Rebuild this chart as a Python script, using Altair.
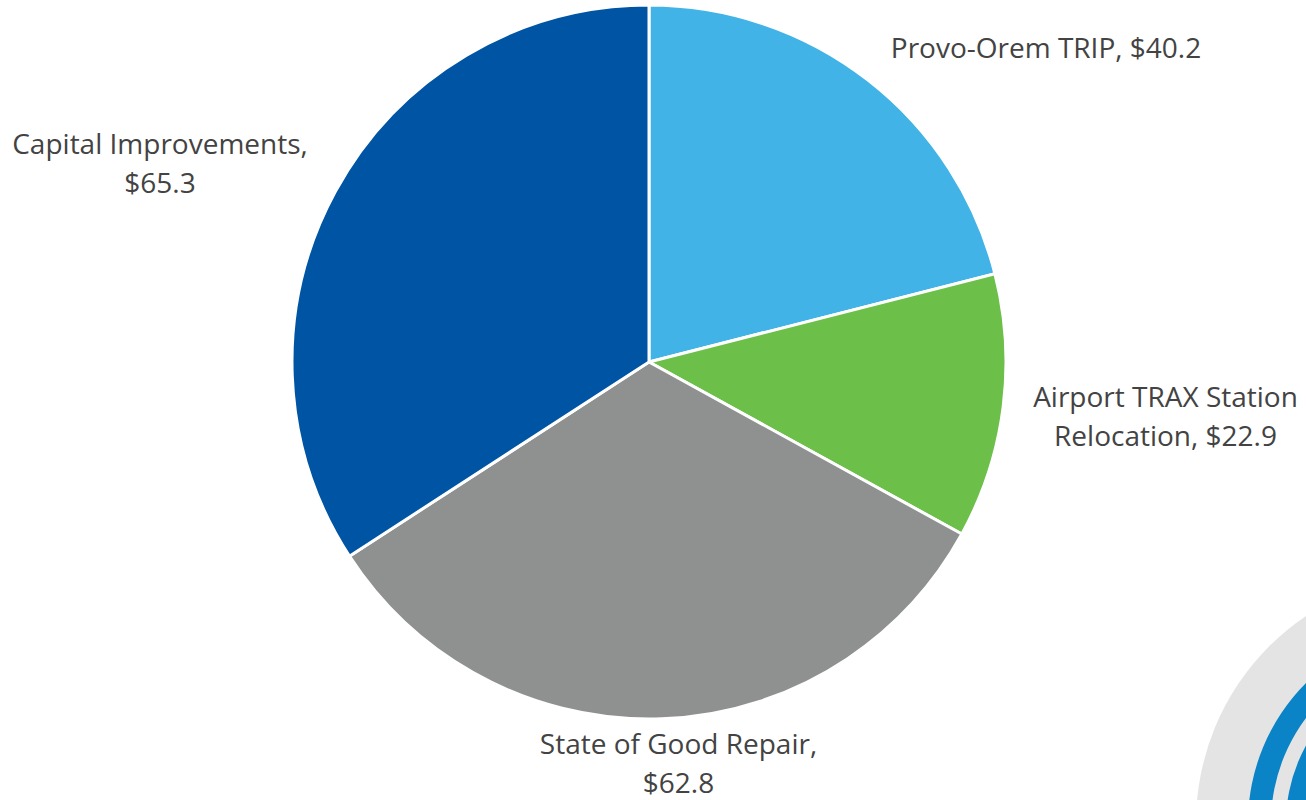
import altair as alt
import pandas as pd

categories = ["Provo-Orem TRIP", "Airport TRAX Station Relocation", "State of Good Repair", "Capital Improvements"]
amounts = [40.2, 22.9, 62.8, 65.3]
colors = ["#41B3E6", "#6CC04A", "#8F9190", "#0054A4"]

pie_data = pd.DataFrame({"category": categories, "amount": amounts, "rank": [0, 1, 2, 3]})

W, H = 1306, 800
CX, CY, R = 649, 362, 357

pie = (
    alt.Chart(pie_data)
    .mark_arc(outerRadius=R, stroke="white", strokeWidth=3)
    .encode(
        theta=alt.Theta("amount:Q", stack=True),
        order=alt.Order("rank:Q"),
        color=alt.Color("category:N", scale=alt.Scale(domain=categories, range=colors), legend=None),
        x=alt.value(CX),
        y=alt.value(CY),
    )
)

# Each label: text lines, anchor x, first-line baseline y
label_layout = [
    (["Provo-Orem TRIP, $40.2"], 1046, 58),
    (["Airport TRAX Station", "Relocation, $22.9"], 1165.5, 407),
    (["State of Good Repair,", "$62.8"], 678.5, 754),
    (["Capital Improvements,", "$65.3"], 160, 154),
]
labels = [
    alt.Chart(pd.DataFrame({"t": [" | ".join(lines)]}))
    .mark_text(
        text=lines,
        font="Open Sans",
        fontSize=28,
        color="#434343",
        align="center",
        baseline="alphabetic",
        lineHeight=39,
    )
    .encode(x=alt.value(x), y=alt.value(y))
    for lines, x, y in label_layout
]

# Agency emblem in the lower right corner: concentric bands on a pale disc
emblem_bands = [
    ("#E4E4E4", 0, 250),
    ("#0A84C6", 175, 198),
    ("#0A84C6", 132, 160),
]
emblem = [
    alt.Chart(pd.DataFrame({"v": [1]}))
    .mark_arc(innerRadius=inner, outerRadius=outer, color=col, clip=True)
    .encode(theta=alt.Theta("v:Q"), x=alt.value(1446), y=alt.value(823))
    for col, inner, outer in emblem_bands
]

chart = (
    alt.layer(*emblem, pie, *labels)
    .resolve_scale(theta="independent")
    .properties(width=W, height=H, padding=0, background="white", autosize=alt.AutoSizeParams(type="none"))
    .configure_view(stroke=None)
)

chart.save("out.html", embed_options={"renderer": "svg", "actions": False})
